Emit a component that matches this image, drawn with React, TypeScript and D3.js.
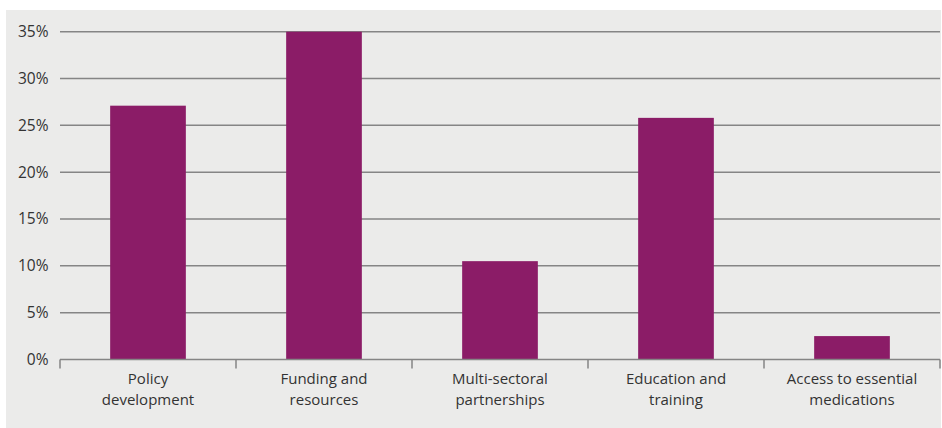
import React from "react";
import * as d3 from "d3";

const categories: string[][] = [
  ["Policy", "development"],
  ["Funding and", "resources"],
  ["Multi-sectoral", "partnerships"],
  ["Education and", "training"],
  ["Access to essential", "medications"],
];
const values: number[] = [27.1, 35, 10.5, 25.8, 2.5];
const yTicks: number[] = [0, 5, 10, 15, 20, 25, 30, 35];

export default function App() {
  const W = 942, H = 428;
  const left = 60, right = 940, top = 31.7, bottom = 359.5;
  const keys = categories.map((c) => c.join(" "));
  const x = d3.scaleBand<string>().domain(keys).range([left, right]);
  const y = d3.scaleLinear().domain([0, 35]).range([bottom, top]);
  const bw = x.bandwidth() * 0.43;
  const font = "'Open Sans', 'Noto Sans', sans-serif";
  const boundaries = [...keys.map((k) => x(k)!), right];
  return (
    <svg width={W} height={H} style={{ position: "absolute", left: 0, top: 0 }}>
      <rect x={0} y={0} width={W} height={H} fill="#ffffff" />
      <rect x={6} y={10} width={935} height={418} fill="#ebebea" />
      {yTicks.filter((t) => t > 0).map((t) => (
        <line key={t} x1={left} x2={right} y1={y(t)} y2={y(t)} stroke="#858585" strokeWidth={1.5} />
      ))}
      {yTicks.map((t) => (
        <text key={"l" + t} x={48.5} y={y(t)} dy="0.35em" textAnchor="end" fontFamily={font} fontSize={15.5} fill="#333">
          {t}%
        </text>
      ))}
      {values.map((v, i) => (
        <rect
          key={i}
          x={x(keys[i])! + x.bandwidth() / 2 - bw / 2}
          y={y(v)}
          width={bw}
          height={y(0) - y(v)}
          fill="#8b1c67"
        />
      ))}
      <line x1={left} x2={right} y1={y(0)} y2={y(0)} stroke="#858585" strokeWidth={1.5} />
      {boundaries.map((b, i) => (
        <line key={"t" + i} x1={b} x2={b} y1={y(0)} y2={y(0) + 9} stroke="#858585" strokeWidth={1.5} />
      ))}
      {categories.map((c, i) =>
        c.map((line, j) => (
          <text
            key={"c" + i + "-" + j}
            x={x(keys[i])! + x.bandwidth() / 2}
            y={384 + j * 20.6}
            textAnchor="middle"
            fontFamily={font}
            fontSize={15}
            fill="#333"
          >
            {line}
          </text>
        ))
      )}
    </svg>
  );
}
